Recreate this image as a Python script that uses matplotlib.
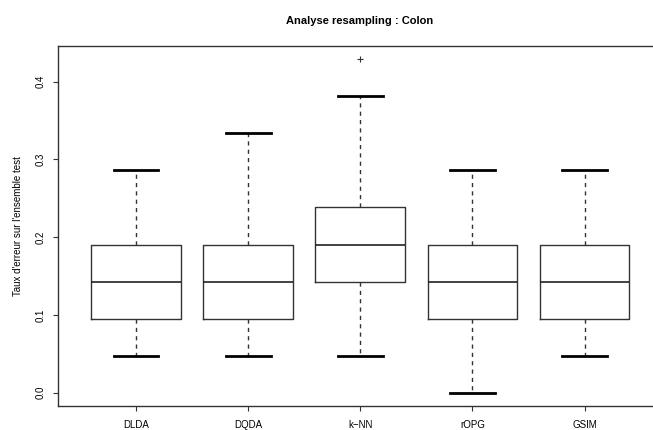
import matplotlib
matplotlib.use("Agg")
import matplotlib.pyplot as plt

# error rates (multiples of 1/21)
methods = ["DLDA", "DQDA", "k\u2212NN", "rOPG", "GSIM"]
lower_whisker = [1/21, 1/21, 1/21, 0.0, 1/21]
q1 = [2/21, 2/21, 3/21, 2/21, 2/21]
median = [3/21, 3/21, 4/21, 3/21, 3/21]
q3 = [4/21, 4/21, 5/21, 4/21, 4/21]
upper_whisker = [6/21, 7/21, 8/21, 6/21, 6/21]
outliers = [[], [], [9/21], [], []]

stats = []
for i, name in enumerate(methods):
    stats.append({"label": name, "whislo": lower_whisker[i], "q1": q1[i],
                  "med": median[i], "q3": q3[i], "whishi": upper_whisker[i],
                  "fliers": outliers[i]})

plt.rcParams["font.family"] = ["Liberation Sans", "DejaVu Sans"]

fig = plt.figure(figsize=(6.53, 4.30), dpi=100)
ax = fig.add_axes([57.5/653, 24/430, 605.5/653, 360/430])

ax.bxp(stats, positions=range(1, 6), widths=0.8, patch_artist=False,
       boxprops=dict(color="#333333", linewidth=1.0),
       medianprops=dict(color="#222222", linewidth=1.2),
       whiskerprops=dict(color="#333333", linewidth=1.0, linestyle=(0, (3, 3))),
       capprops=dict(color="black", linewidth=2.0),
       capwidths=0.4,
       flierprops=dict(marker="+", markersize=4, markeredgecolor="#333333",
                       markeredgewidth=0.8))

ax.set_xlim(0.3, 5.7)
ax.set_ylim(-0.01714, 0.44571)
ax.set_yticks([0.0, 0.1, 0.2, 0.3, 0.4])
ax.set_yticklabels(["0.0", "0.1", "0.2", "0.3", "0.4"], rotation=90, va="center")
ax.set_xticks(range(1, 6))
ax.set_xticklabels(methods)
ax.tick_params(axis="both", labelsize=7, length=3.6, width=0.8, color="#333333")
ax.tick_params(axis="x", pad=6.3)
ax.tick_params(axis="y", pad=5)
for s in ax.spines.values():
    s.set_color("#333333")
    s.set_linewidth(1.0)

ax.set_ylabel("Taux d'erreur sur l'ensemble test", fontsize=7, labelpad=9)
fig.text(360/653, 1 - 21/430, "Analyse resampling : Colon", fontsize=8,
         fontweight="bold", ha="center", va="center")

fig.savefig("out.png", dpi=100)
